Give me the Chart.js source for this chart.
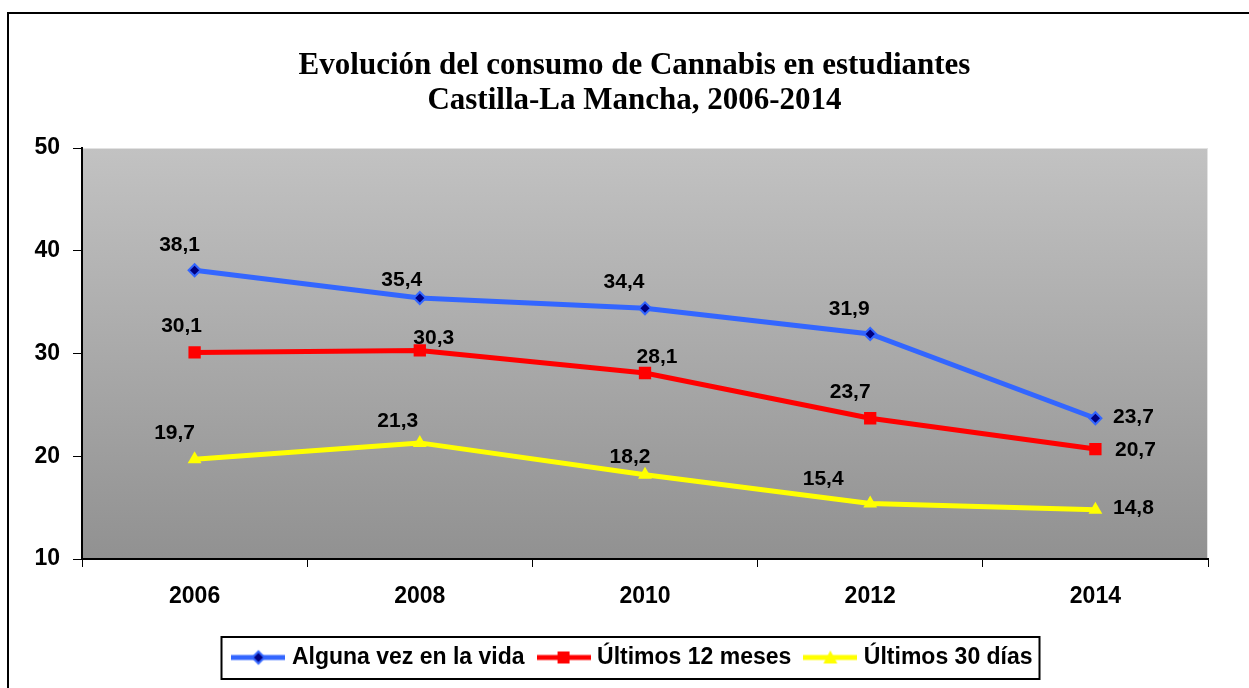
<!DOCTYPE html>
<html><head><meta charset="utf-8">
<script src="https://cdn.jsdelivr.net/npm/chart.js@4.4.1/dist/chart.umd.min.js"></script>
<style>html,body{margin:0;padding:0;background:#fff}#wrap{width:1249px;height:688px;position:relative}</style>
</head><body><div id="wrap"><canvas id="c" width="1249" height="688" style="width:1249px;height:688px"></canvas></div>
<script>
const years = ['2006','2008','2010','2012','2014'];
const seriesNames = ['Alguna vez en la vida','Últimos 12 meses','Últimos 30 días'];
const algunaVez = [38.1, 35.4, 34.4, 31.9, 23.7];
const ultimos12 = [30.1, 30.3, 28.1, 23.7, 20.7];
const ultimos30 = [19.7, 21.3, 18.2, 15.4, 14.8];
const yTicks = [10, 20, 30, 40, 50];
const titleLines = ['Evolución del consumo de Cannabis en estudiantes', 'Castilla-La Mancha, 2006-2014'];

// label placement offsets (style only)
const labelOffsets = [
  [[-15,-25],[-18,-18],[-21,-26],[-21,-25],[38,-1]],
  [[-13,-26],[14,-12],[12,-16],[-20,-26],[40,1]],
  [[-20,-26],[-22,-22],[-15,-18],[-47,-24],[38,-1]]
];

const SANS = "'Liberation Sans', Arial, sans-serif";
const SERIF = "'Liberation Serif', 'Times New Roman', serif";
const BLUE = '#3366FF', RED = '#FF0000', YEL = '#FFFF00', NAVY = '#000080';

function drawMarker(x, style, cx, cy) {
  x.beginPath();
  if (style === 'diamond') {
    x.moveTo(cx - 6, cy); x.lineTo(cx, cy - 6); x.lineTo(cx + 6, cy); x.lineTo(cx, cy + 6); x.closePath();
    x.fillStyle = NAVY; x.fill(); x.lineWidth = 2; x.strokeStyle = BLUE; x.stroke();
  } else if (style === 'square') {
    x.fillStyle = RED; x.fillRect(cx - 6, cy - 6, 12, 12);
  } else {
    x.moveTo(cx, cy - 7); x.lineTo(cx + 7, cy + 6); x.lineTo(cx - 7, cy + 6); x.closePath();
    x.fillStyle = YEL; x.fill();
  }
}
function legendImg(color, style) {
  const c = document.createElement('canvas'); c.width = 54; c.height = 20;
  const x = c.getContext('2d');
  x.strokeStyle = color; x.lineWidth = 5; x.beginPath(); x.moveTo(0, 10); x.lineTo(54, 10); x.stroke();
  drawMarker(x, style, 27, 10);
  return c;
}
const legendImages = [legendImg(BLUE, 'diamond'), legendImg(RED, 'square'), legendImg(YEL, 'triangle')];

const bgPlugin = {
  id: 'bg',
  beforeDraw(chart) {
    const ctx = chart.ctx, a = chart.chartArea;
    ctx.save();
    ctx.fillStyle = '#fff'; ctx.fillRect(0, 0, chart.width, chart.height);
    ctx.strokeStyle = '#000'; ctx.lineWidth = 2; ctx.strokeRect(8, 13, chart.width + 20, chart.height + 20);
    const g = ctx.createLinearGradient(0, a.top, 0, a.bottom);
    g.addColorStop(0, '#c2c2c2'); g.addColorStop(1, '#919191');
    ctx.fillStyle = g; ctx.fillRect(a.left, a.top, a.right - a.left, a.bottom - a.top);
    ctx.fillStyle = '#e2e2e2'; ctx.fillRect(a.left, a.top, a.right - a.left, 1); ctx.fillRect(a.right - 1, a.top, 1, a.bottom - a.top);
    ctx.restore();
  }
};
const labelPlugin = {
  id: 'vlabels',
  afterDatasetsDraw(chart) {
    const ctx = chart.ctx;
    ctx.save();
    ctx.font = 'bold 21px ' + SANS; ctx.fillStyle = '#000';
    ctx.textAlign = 'center'; ctx.textBaseline = 'middle';
    chart.data.datasets.forEach((ds, i) => {
      chart.getDatasetMeta(i).data.forEach((pt, j) => {
        const o = labelOffsets[i][j];
        ctx.fillText(ds.data[j].toFixed(1).replace('.', ','), pt.x + o[0], pt.y + o[1]);
      });
    });
    ctx.restore();
  }
};
const legendBoxPlugin = {
  id: 'legendBox',
  afterDraw(chart) {
    const hb = chart.legend && chart.legend.legendHitBoxes;
    if (!hb || !hb.length) return;
    const first = hb[0], last = hb[hb.length - 1];
    const cy = first.top + first.height / 2;
    const ctx = chart.ctx;
    ctx.save(); ctx.strokeStyle = '#000'; ctx.lineWidth = 2;
    ctx.strokeRect(Math.round(first.left - 15) + 0.5, Math.round(cy - 21), Math.round(last.left + last.width + 7 - (first.left - 15)), 42);
    ctx.restore();
  }
};

const datasets = [
  { label: seriesNames[0], data: algunaVez, borderColor: BLUE, backgroundColor: BLUE, borderWidth: 5,
    pointStyle: 'rectRot', pointRadius: 6, pointHoverRadius: 6, pointBackgroundColor: NAVY, pointBorderColor: BLUE, pointBorderWidth: 2 },
  { label: seriesNames[1], data: ultimos12, borderColor: RED, backgroundColor: RED, borderWidth: 5,
    pointStyle: 'rect', pointRadius: 8.7, pointHoverRadius: 8.7, pointBackgroundColor: RED, pointBorderColor: RED, pointBorderWidth: 0 },
  { label: seriesNames[2], data: ultimos30, borderColor: YEL, backgroundColor: YEL, borderWidth: 5,
    pointStyle: 'triangle', pointRadius: 8, pointHoverRadius: 8, pointBackgroundColor: YEL, pointBorderColor: YEL, pointBorderWidth: 0 }
];

new Chart(document.getElementById('c'), {
  type: 'line',
  data: { labels: years, datasets: datasets },
  plugins: [bgPlugin, labelPlugin, legendBoxPlugin],
  options: {
    responsive: false, animation: false, devicePixelRatio: 1,
    layout: { padding: { left: 61, right: 41, top: 0, bottom: 9 } },
    elements: { line: { tension: 0 } },
    plugins: {
      tooltip: { enabled: false },
      title: {
        display: true, text: titleLines, color: '#000',
        font: { family: SERIF, size: 31, weight: 'bold', lineHeight: 35 / 31 },
        padding: { top: 48.5, bottom: 29.5 }
      },
      legend: {
        display: true, position: 'bottom',
        labels: {
          usePointStyle: true, pointStyleWidth: 44, padding: 17, color: '#000',
          font: { family: SANS, size: 23, weight: 'bold' },
          generateLabels: (chart) => chart.data.datasets.map((ds, i) => ({
            text: ds.label, pointStyle: legendImages[i], fillStyle: ds.borderColor, strokeStyle: ds.borderColor,
            lineWidth: 0, hidden: false, datasetIndex: i, fontColor: '#000'
          }))
        }
      }
    },
    scales: {
      x: {
        type: 'category', offset: true,
        grid: { offset: true, drawOnChartArea: false, drawTicks: true, tickLength: 8, color: '#000', lineWidth: 1 },
        border: { display: true, color: '#000', width: 2 },
        ticks: { padding: 16, color: '#000', maxRotation: 0, autoSkip: false, font: { family: SANS, size: 23, weight: 'bold' } },
        afterFit: (s) => { s.height = 70; }
      },
      y: {
        min: yTicks[0], max: yTicks[yTicks.length - 1],
        grid: { drawOnChartArea: false, drawTicks: true, tickLength: 9, color: '#000', lineWidth: 1 },
        border: { display: true, color: '#000', width: 2 },
        ticks: { stepSize: 10, mirror: true, padding: -47.5, color: '#000', font: { family: SANS, size: 23, weight: 'bold' } },
        afterBuildTicks: (s) => { s.ticks = yTicks.map(v => ({ value: v })); },
        afterFit: (s) => { s.width = 21; }
      }
    }
  }
});
</script></body></html>
